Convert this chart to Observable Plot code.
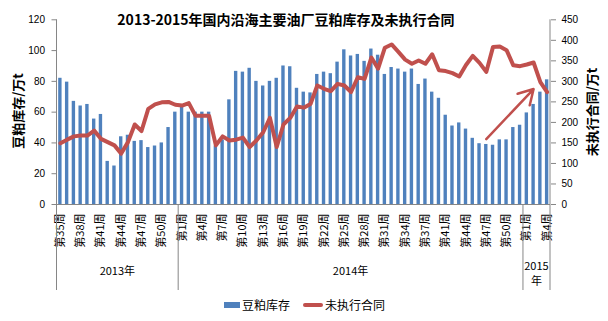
<!DOCTYPE html>
<html><head><meta charset="utf-8">
<script src="https://cdn.jsdelivr.net/npm/d3@7"></script>
<script src="https://cdn.jsdelivr.net/npm/@observablehq/plot@0.6"></script>
<style>
body{margin:0;background:#fff;}
#wrap{position:relative;width:608px;height:321px;overflow:hidden;font-family:"Noto Sans CJK SC","Noto Sans",sans-serif;color:#000;}
#wrap svg{position:absolute;left:0;top:0;}
#title{position:absolute;left:0;width:572px;top:10px;text-align:center;font-size:14px;font-weight:bold;line-height:18px;white-space:nowrap;}
.ylab{position:absolute;font-size:13px;font-weight:bold;white-space:nowrap;transform:translate(-50%,-50%) rotate(-90deg);line-height:14px;}
.leg{position:absolute;font-size:12px;line-height:14px;white-space:nowrap;}
.sw{position:absolute;}
</style>
</head><body>
<div id="wrap">
  <div id="chart"></div>
  <div id="title">2013-2015年国内沿海主要油厂豆粕库存及未执行合同</div>
  <div class="ylab" style="left:18px;top:111px;">豆粕库存/万t</div>
  <div class="ylab" style="left:592px;top:112px;">未执行合同/万t</div>
  <div class="sw" style="left:224px;top:302px;width:16px;height:6px;background:#4F81BD;"></div>
  <div class="leg" style="left:242px;top:298px;">豆粕库存</div>
  <div class="sw" style="left:303px;top:303px;width:20px;height:4px;background:#C0504D;border-radius:2px;"></div>
  <div class="leg" style="left:325px;top:298px;">未执行合同</div>
</div>
<script>
const weeks2013 = [35,36,37,38,39,40,41,42,43,44,45,46,47,48,49,50,51,52];
const weeks2014 = [1,2,3,4,5,6,7,8,9,10,11,12,13,14,15,16,17,18,19,20,21,22,23,24,25,26,27,28,29,30,31,32,33,34,35,36,37,38,39,41,42,43,44,45,46,47,48,49,50,51,52];
const weeks2015 = [1,2,3,4];
const yearGroups = [
  {year: "2013", weeks: weeks2013, label: ["2013年"]},
  {year: "2014", weeks: weeks2014, label: ["2014年"]},
  {year: "2015", weeks: weeks2015, label: ["2015", "年"]}
];
// 豆粕库存 (万t), left axis
const inventory = [
  82, 79.5, 67, 64, 65, 55.5, 58.5, 28, 25, 44, 45, 41, 41.5, 37, 38, 40, 50, 60,
  64, 60, 60, 60, 60, 38, 42, 68, 86.5, 86, 88.5, 80, 77, 80, 82, 90, 89.5, 75.5,
  73, 72.5, 84.5, 86, 85, 92.5, 100.5, 96.5, 97.5, 93, 101, 97, 84.5, 89, 88, 86, 88, 78,
  81.5, 73, 69, 58, 51, 53, 49, 43, 39.5, 39, 38.5, 42, 42, 50, 51.5, 59.5, 65, 73, 81
];
// 未执行合同 (万t), right axis
const contracts = [
  149, 158, 166, 168, 168, 180, 160, 152, 144, 124, 152, 195, 179, 233, 244, 249, 250, 243,
  241, 247, 216, 216, 216, 144, 166, 156, 158, 163, 140, 156, 176, 211, 140, 195, 211, 239,
  236, 245, 290, 282, 276, 294, 290, 274, 310, 306, 358, 331, 382, 390, 372, 353, 343, 351,
  343, 366, 327, 325, 320, 312, 340, 362, 345, 323, 384, 385, 376, 339, 337, 341, 346, 298, 274
];
const leftTicks = [0, 20, 40, 60, 80, 100, 120];
const rightTicks = [0, 50, 100, 150, 200, 250, 300, 350, 400, 450];
const leftMax = 120, rightMax = 450;
const arrowNote = [{from: "2014-47", fromValue: 42.5, to: "2015-2", toValue: 75}];

const rows = [];
for (const g of yearGroups) for (const w of g.weeks) rows.push({key: g.year + "-" + w, week: w, year: g.year});
rows.forEach((d, i) => { d.inv = inventory[i]; d.con = contracts[i]; });
const keys = rows.map(d => d.key);
const weekOf = new Map(rows.map(d => [d.key, d.week]));
const labeled = keys.filter((k, i) => i % 3 === 0);
const toLeft = v => v * leftMax / rightMax;

const chart = Plot.plot({
  width: 608, height: 321,
  marginTop: 19.3, marginBottom: 117, marginLeft: 56.5, marginRight: 58,
  style: {background: "transparent", color: "#000", fontFamily: "'Noto Sans CJK SC', sans-serif"},
  x: {type: "band", domain: keys, paddingInner: 0.5, paddingOuter: 0.25, round: false},
  y: {domain: [0, leftMax]},
  marks: [
    Plot.barY(rows, {x: "key", y: "inv", fill: "#4F81BD"}),
    Plot.ruleY([0], {stroke: "#868686", strokeWidth: 1}),
    Plot.line(rows, {x: "key", y: d => toLeft(d.con), stroke: "#C0504D", strokeWidth: 4, strokeLinejoin: "round", strokeLinecap: "round"}),
    Plot.arrow(arrowNote, {x1: "from", y1: "fromValue", x2: "to", y2: "toValue", stroke: "#C0504D", strokeWidth: 2.5, headLength: 10}),
    Plot.axisY({anchor: "left", ticks: leftTicks, tickSize: 5, tickPadding: 7, label: null, fontSize: 10, fontFamily: "'Liberation Sans', Arial, sans-serif"}),
    Plot.axisY({anchor: "right", ticks: rightTicks.map(toLeft), tickFormat: d => String(Math.round(d * rightMax / leftMax)), tickSize: 5, tickPadding: 6, label: null, fontSize: 10, fontFamily: "'Liberation Sans', Arial, sans-serif"}),
    Plot.axisX({ticks: labeled, tickFormat: k => "第" + weekOf.get(k) + "周", tickRotate: -90, tickSize: 0, tickPadding: 9, label: null, fontSize: 11})
  ]
});
document.getElementById("chart").appendChild(chart);

// axis lines, year separators and year labels from the x/y scales
const sx = chart.scale("x"), sy = chart.scale("y");
const [r0, r1] = sx.range;
const step = (r1 - r0) / keys.length;
const y0 = sy.apply(0), yTop = sy.apply(leftMax);
const svg = d3.select(chart);
svg.selectAll('[aria-label="y-axis tick"] path, [aria-label="y-axis tick"]').attr("stroke", "#868686");
const g = svg.append("g").attr("stroke", "#868686").attr("stroke-width", 1);
g.append("line").attr("x1", r0).attr("x2", r0).attr("y1", yTop).attr("y2", y0);
g.append("line").attr("x1", r1).attr("x2", r1).attr("y1", yTop).attr("y2", y0);
let start = 0;
const bounds = [r0];
for (const grp of yearGroups) {
  const end = start + grp.weeks.length;
  const xa = r0 + start * step, xb = r0 + end * step;
  bounds.push(xb);
  const t = svg.append("text").attr("x", (xa + xb) / 2).attr("text-anchor", "middle")
    .attr("font-size", 11).attr("fill", "#000");
  grp.label.forEach((s, j) => {
    t.append("tspan").attr("x", (xa + xb) / 2).attr("y", y0 + (grp.label.length > 1 ? 62 : 67) + j * 15).attr("dy", "0.35em").text(s);
  });
  start = end;
}
for (const b of bounds) g.append("line").attr("x1", b).attr("x2", b).attr("y1", y0).attr("y2", y0 + 86);
</script>
</body></html>
